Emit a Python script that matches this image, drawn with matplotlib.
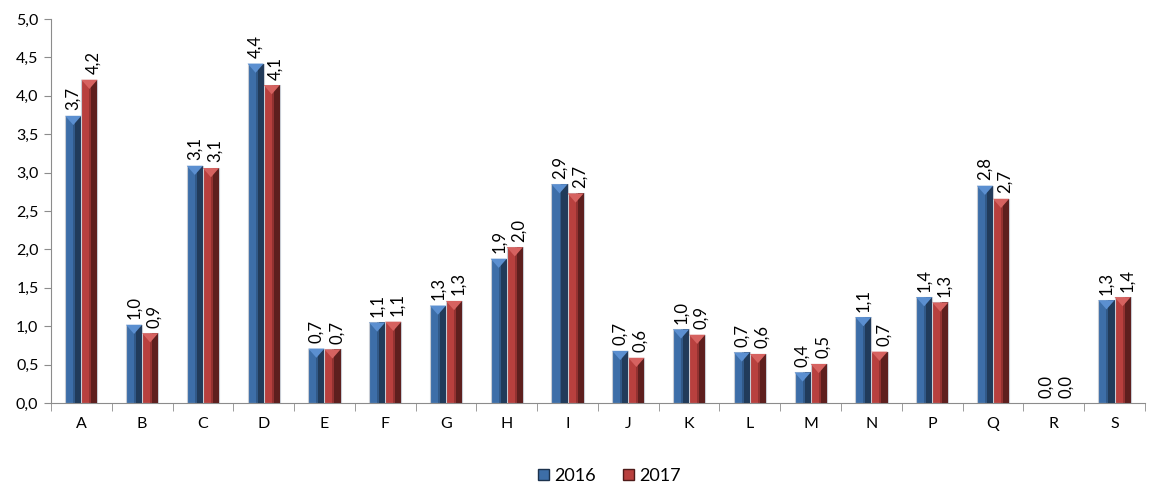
import numpy as np
import matplotlib
matplotlib.use("Agg")
from matplotlib import pyplot as plt
from matplotlib.patches import Polygon, Rectangle
from matplotlib.ticker import FuncFormatter, FixedLocator

categories = ["A", "B", "C", "D", "E", "F", "G", "H", "I", "J",
              "K", "L", "M", "N", "P", "Q", "R", "S"]
values_2016 = [3.74, 1.02, 3.09, 4.42, 0.71, 1.05, 1.27, 1.88, 2.85, 0.68,
               0.96, 0.66, 0.40, 1.12, 1.38, 2.83, 0.0, 1.34]
values_2017 = [4.21, 0.91, 3.06, 4.14, 0.70, 1.06, 1.33, 2.03, 2.73, 0.59,
               0.89, 0.64, 0.51, 0.67, 1.31, 2.66, 0.0, 1.38]
series_names = ["2016", "2017"]

plt.rcParams['font.family'] = ['Lato', 'DejaVu Sans']

fig = plt.figure(figsize=(11.5, 4.88), dpi=100)
ax = fig.add_axes([0.0443, 0.174, 0.9513, 0.787])

x = np.arange(len(categories))
w = 0.265
styles = [
    # face, dark side, top highlight
    ("#3d6ea8", "#1c324d", "#5b8fd0"),
    ("#b8403e", "#4e1a19", "#d66260"),
]


def bevel_bar(xc, h, face, dark, light):
    if h <= 0:
        return
    left = xc - w / 2
    ax.add_patch(Rectangle((left, 0), w, h, facecolor=face,
                           edgecolor="#c8ccd4", linewidth=0.8, zorder=2))
    # darker right side
    ax.add_patch(Rectangle((left + w * 0.62, 0), w * 0.38, h,
                           facecolor=dark, edgecolor="none", alpha=0.85, zorder=3))
    ax.add_patch(Rectangle((left + w * 0.5, 0), w * 0.12, h,
                           facecolor=dark, edgecolor="none", alpha=0.35, zorder=3))
    # top triangle highlight
    th = min(0.12, h)
    ax.add_patch(Polygon([(left, h), (left + w, h), (xc, h - th)],
                         closed=True, facecolor=light, edgecolor="none", zorder=4))


for i, vals in enumerate([values_2016, values_2017]):
    face, dark, light = styles[i]
    offs = (i - 0.5) * w
    for xc, v in zip(x + offs, vals):
        bevel_bar(xc, v, face, dark, light)
        ax.annotate(f"{v:.1f}".replace(".", ","), (xc, v), xytext=(3 * i, 4),
                    textcoords="offset points", rotation=90, ha="center",
                    va="bottom", fontsize=12, color="black", zorder=5)

ax.set_xlim(-0.5, len(categories) - 0.5)
ax.set_ylim(0, 5)
ax.yaxis.set_major_locator(FixedLocator(np.arange(0, 5.01, 0.5)))
ax.yaxis.set_major_formatter(FuncFormatter(lambda v, p: f"{v:.1f}".replace(".", ",")))
ax.set_xticks(x)
ax.set_xticklabels(categories)
ax.set_xticks(np.arange(-0.5, len(categories)), minor=True)
ax.tick_params(axis="x", which="major", length=0, pad=10, labelsize=11.5)
ax.tick_params(axis="x", which="minor", length=6, color="#8c8c8c", direction="out")
ax.tick_params(axis="y", length=5, color="#8c8c8c", labelsize=11.5, pad=4)

for s in ["top", "right"]:
    ax.spines[s].set_visible(False)
for s in ["left", "bottom"]:
    ax.spines[s].set_color("#8c8c8c")

handles = [Rectangle((0, 0), 1, 1, facecolor=styles[i][0], edgecolor=styles[i][1])
           for i in range(2)]
fig.legend(handles, series_names, loc="lower center", ncol=2, frameon=False,
           bbox_to_anchor=(0.53, -0.025), fontsize=13, handlelength=0.6,
           handleheight=0.6, handletextpad=0.3, columnspacing=1.5)

fig.savefig("out.png", dpi=100)
